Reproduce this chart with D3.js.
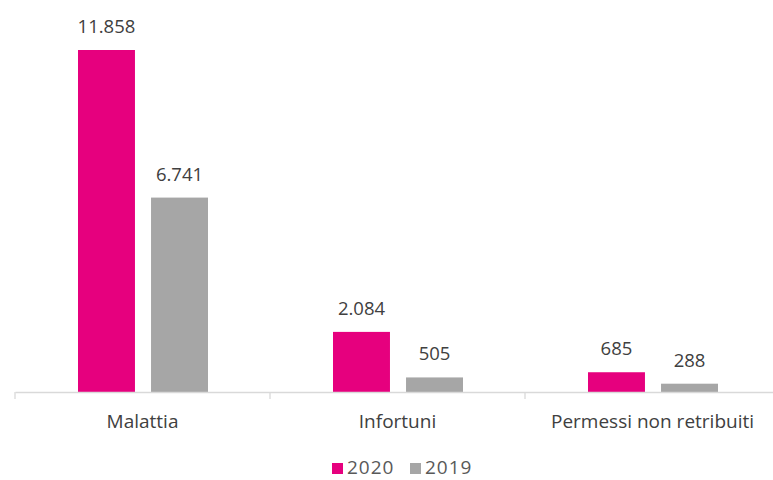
<!DOCTYPE html>
<html><head><meta charset="utf-8">
<script src="https://cdn.jsdelivr.net/npm/d3@7"></script>
<style>body{margin:0;background:#fff}text{font-family:"Open Sans",Lato,sans-serif}</style>
</head><body><svg id="c" width="773" height="480"></svg>
<script>
const categories = ["Malattia", "Infortuni", "Permessi non retribuiti"];
const seriesNames = ["2020", "2019"];
const values2020 = [11858, 2084, 685];
const values2019 = [6741, 505, 288];
const colors = ["#E6007E", "#A6A6A6"];

const svg = d3.select("#c");
const baseY = 392, left = 15, right = 780;
const x = d3.scaleBand().domain(categories).range([left, right]).paddingInner(0).paddingOuter(0);
const x1 = d3.scaleBand().domain(seriesNames).range([63, 193]).paddingInner(0.22);
const y = d3.scaleLinear().domain([0, 13000]).range([baseY, baseY - 13000 * 342 / 11858]);
const loc = d3.formatLocale({decimal: ",", thousands: ".", grouping: [3], currency: ["€", ""]});
const fmt = loc.format(",");
const font = "'Open Sans', Lato, sans-serif";

const data = categories.map((c, i) => ({cat: c, vals: [values2020[i], values2019[i]]}));

const g = svg.selectAll("g.grp").data(data).join("g").attr("class", "grp")
  .attr("transform", d => `translate(${x(d.cat)},0)`);
g.selectAll("rect").data(d => d.vals.map((v, j) => ({s: seriesNames[j], v, j})))
  .join("rect")
  .attr("x", d => x1(d.s)).attr("width", x1.bandwidth())
  .attr("y", d => y(d.v)).attr("height", d => baseY - y(d.v))
  .attr("fill", d => colors[d.j]);
g.selectAll("text.val").data(d => d.vals.map((v, j) => ({s: seriesNames[j], v, j})))
  .join("text").attr("class", "val")
  .attr("x", d => x1(d.s) + x1.bandwidth() / 2).attr("y", d => y(d.v) - 17)
  .attr("text-anchor", "middle").attr("font-size", 18.5).attr("fill", "#404040")
  .text(d => fmt(d.v));

// axis
const axis = d3.axisBottom(x).tickSize(0).tickFormat(d => d);
const ax = svg.append("g").attr("transform", `translate(0,${baseY})`).call(axis);
ax.select(".domain").attr("stroke", "#D9D9D9").attr("stroke-width", 1.3);
ax.selectAll(".tick text").attr("font-size", 19).attr("fill", "#404040").attr("dy", 0).attr("y", 36)
  .style("font-family", font);
const edges = [left].concat(categories.map(c => x(c) + x.bandwidth()));
svg.selectAll("line.sep").data(edges).join("line").attr("class", "sep")
  .attr("x1", d => d).attr("x2", d => d).attr("y1", baseY).attr("y2", baseY + 7)
  .attr("stroke", "#D9D9D9").attr("stroke-width", 1.3);

// legend
const legend = svg.append("g");
const lx = [332, 410];
seriesNames.forEach((s, i) => {
  legend.append("rect").attr("x", lx[i]).attr("y", 463).attr("width", 11).attr("height", 11).attr("fill", colors[i]);
  legend.append("text").attr("x", lx[i] + 15).attr("y", 474).attr("font-size", 19).attr("letter-spacing", 1)
    .attr("fill", "#595959").text(s);
});
</script></body></html>
